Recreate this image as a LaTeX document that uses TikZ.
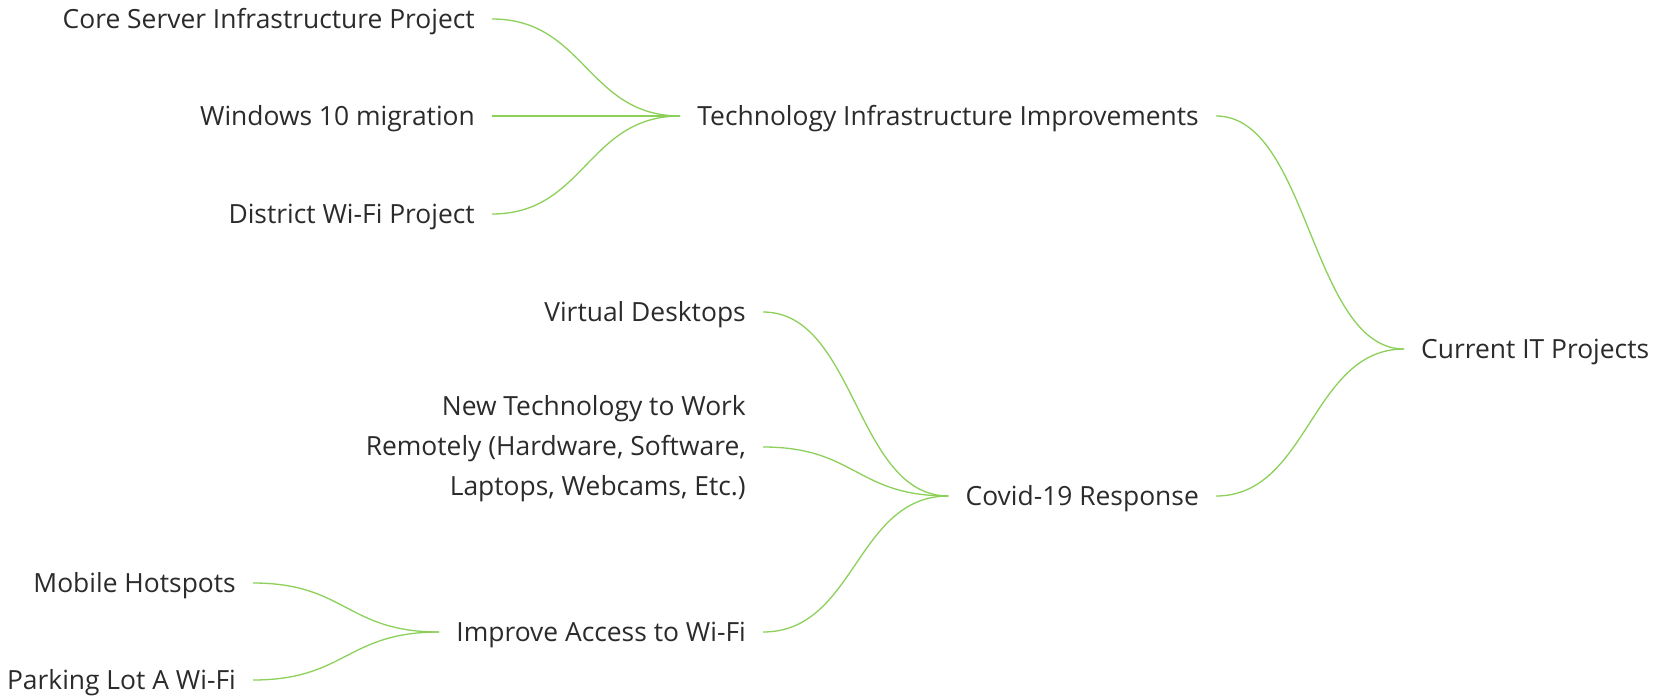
\documentclass[tikz,border=0pt]{standalone}
\usepackage{fontspec}
\setmainfont{Open Sans}
\definecolor{ink}{HTML}{2B2B2B}
\definecolor{leaf}{HTML}{8CD05A}

\begin{document}
\begin{tikzpicture}[x=1pt,y=-1pt,
  font=\fontsize{26.4}{40}\selectfont,text=ink,
  topic/.style={inner xsep=17pt,inner ysep=0pt,text height=25pt,text depth=6pt},
  branch/.style={draw=leaf,line width=1.3pt}]
  \useasboundingbox (0,0) rectangle (1654,696);

  % Root and main branches.
  \node[topic,anchor=west] (root) at (1404,349) {Current IT Projects};
  \node[topic,anchor=east] (tech) at (1216,116)
    {Technology Infrastructure Improvements};
  \node[topic,anchor=east] (covid) at (1216,496) {Covid-19 Response};

  % Technology subtopics.
  \node[topic,anchor=east] (core) at (492,19)
    {Core Server Infrastructure Project};
  \node[topic,anchor=east] (win) at (492,116) {Windows 10 migration};
  \node[topic,anchor=east] (wifi) at (492,214) {District Wi-Fi Project};

  % Covid-19 subtopics.
  \node[topic,anchor=east] (vdesk) at (763,312) {Virtual Desktops};
  \node[inner xsep=17pt,inner ysep=0pt,anchor=east,align=right] (remote)
    at (763,449)
    {New Technology to Work\\Remotely (Hardware, Software,\\
     Laptops, Webcams, Etc.)};
  \node[topic,anchor=east] (access) at (763,632)
    {Improve Access to Wi-Fi};
  \node[topic,anchor=east] (hotspot) at (253,583) {Mobile Hotspots};
  \node[topic,anchor=east] (lot) at (253,680) {Parking Lot A Wi-Fi};

  \foreach \a/\b in {tech/root,covid/root,core/tech,win/tech,wifi/tech,
      vdesk/covid,access/covid,hotspot/access,lot/access}
    \draw[branch] (\a.east) .. controls +(93,0) and +(-93,0) .. (\b.west);
  \draw[branch] (remote.east) ++(0,-2) .. controls +(93,0) and +(-93,0)
    .. (covid.west);
\end{tikzpicture}
\end{document}
